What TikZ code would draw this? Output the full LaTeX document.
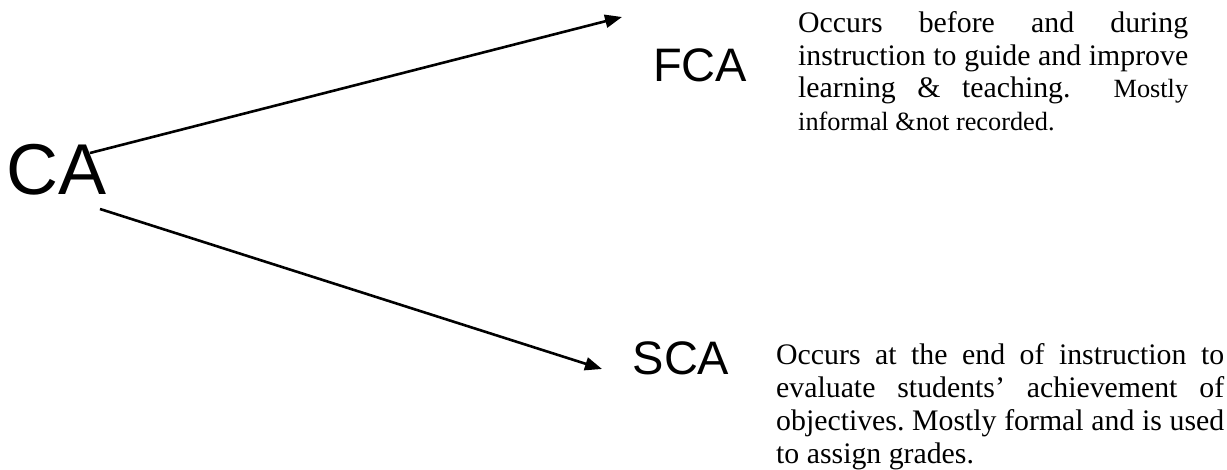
\documentclass[tikz,border=0pt]{standalone}
\usepackage{fontspec}
\setmainfont{Liberation Serif}
\newfontfamily\arialf{Liberation Sans}
\usetikzlibrary{arrows.meta}
\frenchspacing
\begin{document}
\begin{tikzpicture}[x=1pt,y=1pt]
\useasboundingbox (0,0) rectangle (1227,470);
\tikzset{
  big/.style={font=\arialf\fontsize{72}{72}\selectfont, inner sep=0, anchor=base},
  lbl/.style={font=\arialf\fontsize{47}{47}\selectfont, inner sep=0, anchor=base},
  desc/.style={inner sep=0, anchor=base west},
  conn/.style={line width=2.6pt, -{Triangle[length=17pt,width=13pt]}}
}
\newcommand\smallrun{\fontsize{26.3}{32.5}\selectfont}
\node[big] (ca) at (57,275) {CA};
\node[lbl] (fca) at (700,388) {FCA};
\node[lbl] (sca) at (681,95) {SCA};
\node[desc] (fdesc) at (798,437) {\parbox[t]{390pt}{\fontsize{29.8}{32.5}\selectfont
\makebox[390pt][s]{Occurs before and during}\\
\makebox[390pt][s]{instruction to guide and improve}\\
\makebox[390pt][s]{learning \& teaching.\ \ {\smallrun Mostly}}\\
{\smallrun informal \&not recorded.}}};
\node[desc] (sdesc) at (776,105) {\parbox[t]{448pt}{\fontsize{29.8}{32.8}\selectfont
\makebox[448pt][s]{Occurs at the end of instruction to}\\
\makebox[448pt][s]{evaluate students’ achievement of}\\
\makebox[448pt][s]{objectives. Mostly formal and is used}\\
to assign grades.}};
\coordinate (cau) at (90,317);
\coordinate (cal) at (100,261);
\coordinate (ftip) at (622,453);
\coordinate (stip) at (602,101);
\draw[conn] (cau) -- (ftip);
\draw[conn] (cal) -- (stip);
\end{tikzpicture}
\end{document}
